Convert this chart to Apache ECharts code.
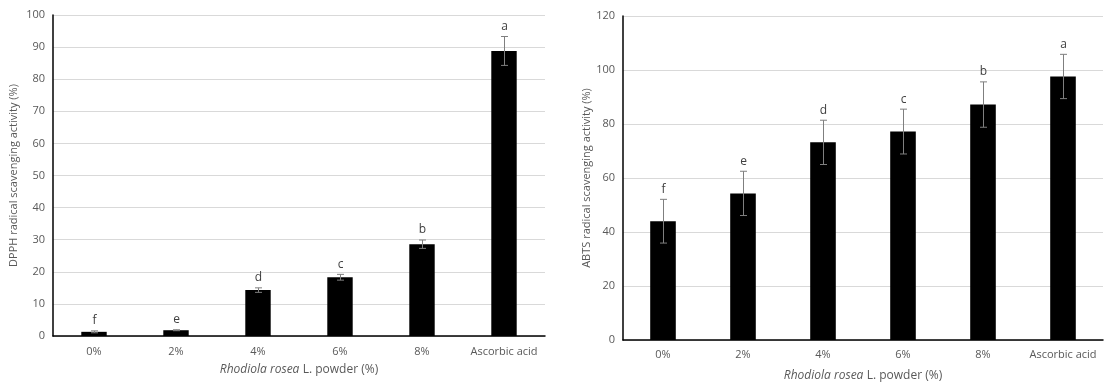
<!DOCTYPE html>
<html><head><meta charset="utf-8">
<script src="https://cdn.jsdelivr.net/npm/echarts@6/dist/echarts.min.js"></script>
<style>html,body{margin:0;padding:0;background:#fff}#c{width:1110px;height:389px}</style>
</head><body><div id="c"></div>
<script>
const categories = ['0%', '2%', '4%', '6%', '8%', 'Ascorbic acid'];
const dpphValues = [1.3, 1.8, 14.3, 18.3, 28.6, 88.8];
const dpphErrors = [0.3, 0.15, 0.7, 0.9, 1.3, 4.5];
const dpphLetters = ['f', 'e', 'd', 'c', 'b', 'a'];
const abtsValues = [44.0, 54.3, 73.2, 77.2, 87.2, 97.6];
const abtsErrors = [8.1, 8.2, 8.2, 8.3, 8.4, 8.2];
const abtsLetters = ['f', 'e', 'd', 'c', 'b', 'a'];
const dpphTicks = {min: 0, max: 100, interval: 10};
const abtsTicks = {min: 0, max: 120, interval: 20};

const FONT = '"Open Sans", "Noto Sans", sans-serif';
const TXT = '#595959';

function errRender(values, errors, letters) {
  return function (params, api) {
    const i = api.value(0);
    const v = values[i], e = errors[i];
    const top = api.coord([i, v + e]);
    const bot = api.coord([i, v - e]);
    const x = Math.round(top[0]) + 0.5;
    const cap = 3.5;
    const st = {stroke: '#7f7f7f', lineWidth: 1};
    return {
      type: 'group',
      children: [
        {type: 'line', shape: {x1: x, y1: top[1], x2: x, y2: bot[1]}, style: st},
        {type: 'line', shape: {x1: x - cap, y1: top[1], x2: x + cap, y2: top[1]}, style: st},
        {type: 'line', shape: {x1: x - cap, y1: bot[1], x2: x + cap, y2: bot[1]}, style: st},
        {type: 'text', style: {text: letters[i], x: x, y: top[1] - 4, align: 'center', verticalAlign: 'bottom',
          fill: '#404040', font: '12px ' + FONT}}
      ]
    };
  };
}

function xAxisFor(gridIndex, margin, nameGap) {
  return {
    type: 'category', gridIndex: gridIndex, data: categories,
    axisLine: {lineStyle: {color: '#000', width: 1.5}},
    axisTick: {show: false},
    axisLabel: {color: TXT, fontSize: 11, fontFamily: FONT, margin: margin, interval: 0},
    name: '{i|Rhodiola rosea} {n|L. powder (%)}',
    nameLocation: 'middle', nameGap: nameGap,
    nameTextStyle: {rich: {
      i: {fontStyle: 'italic', color: TXT, fontSize: 12, fontFamily: FONT},
      n: {color: TXT, fontSize: 12, fontFamily: FONT}
    }}
  };
}
function yAxisFor(gridIndex, ticks, name, nameGap) {
  return {
    type: 'value', gridIndex: gridIndex, min: ticks.min, max: ticks.max, interval: ticks.interval,
    axisLine: {show: true, lineStyle: {color: '#000', width: 1.5}},
    axisTick: {show: false},
    splitLine: {lineStyle: {color: '#d9d9d9', width: 1}},
    axisLabel: {color: TXT, fontSize: 11, fontFamily: FONT, margin: 8},
    name: name, nameLocation: 'middle', nameGap: nameGap,
    nameTextStyle: {color: TXT, fontSize: 11, fontFamily: FONT}
  };
}

const chart = echarts.init(document.getElementById('c'), null, {renderer: 'canvas'});
chart.setOption({
  animation: false,
  backgroundColor: '#fff',
  grid: [
    {left: 53, right: 565, top: 15, bottom: 53},
    {left: 623, right: 7, top: 16, bottom: 49}
  ],
  xAxis: [xAxisFor(0, 10, 28), xAxisFor(1, 9, 30)],
  yAxis: [
    yAxisFor(0, dpphTicks, 'DPPH radical scavenging activity (%)', 34),
    yAxisFor(1, abtsTicks, 'ABTS radical scavenging activity (%)', 30)
  ],
  series: [
    {type: 'bar', xAxisIndex: 0, yAxisIndex: 0, data: dpphValues, barWidth: '31%',
      itemStyle: {color: '#000'}},
    {type: 'custom', xAxisIndex: 0, yAxisIndex: 0, z: 5,
      data: dpphValues.map((v, i) => [i, v]),
      renderItem: errRender(dpphValues, dpphErrors, dpphLetters)},
    {type: 'bar', xAxisIndex: 1, yAxisIndex: 1, data: abtsValues, barWidth: '32%',
      itemStyle: {color: '#000'}},
    {type: 'custom', xAxisIndex: 1, yAxisIndex: 1, z: 5,
      data: abtsValues.map((v, i) => [i, v]),
      renderItem: errRender(abtsValues, abtsErrors, abtsLetters)}
  ]
});
</script></body></html>
